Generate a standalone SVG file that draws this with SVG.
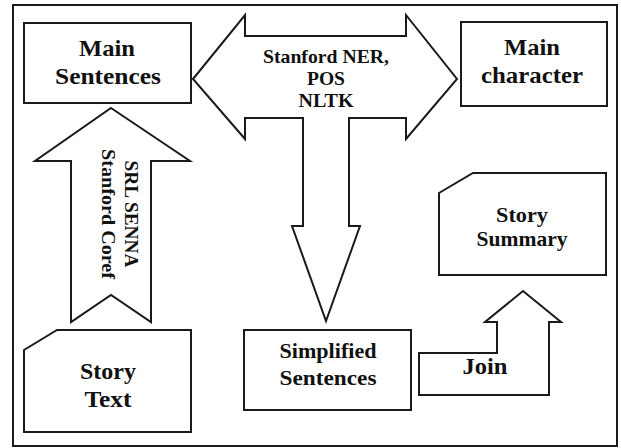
<svg xmlns="http://www.w3.org/2000/svg" width="621" height="448" viewBox="0 0 621 448">
<style>
.s{fill:#fff;stroke:#1a1a1a;stroke-width:2;stroke-linejoin:miter}
.t{font-family:"Liberation Serif","Times New Roman",serif;font-weight:bold;fill:#111;text-anchor:middle}
.f24{font-size:24px}
.f21{font-size:21px}
.f19{font-size:19.5px}
</style>
<rect x="0" y="0" width="621" height="448" fill="#fff"/>
<rect class="s" x="13" y="5" width="604" height="441"/>
<g id="connectors">
<g id="arrow-tools">
<polygon class="s" points="193,79 245,15 245,36 406,36 406,15 457,79 406,139 406,118 349,118 349,226 360,226 326,321 292,226 303,226 303,118 245,118 245,139"/>
<text class="t f19" x="326" y="63" textLength="126" lengthAdjust="spacingAndGlyphs">Stanford NER,</text>
<text class="t f19" x="326" y="85" textLength="38" lengthAdjust="spacingAndGlyphs">POS</text>
<text class="t f19" x="326" y="107" textLength="55" lengthAdjust="spacingAndGlyphs">NLTK</text>
</g>
<g id="arrow-srl">
<polygon class="s" points="111,108 190,161 151,161 151,322 111,295 71,322 71,161 35,161"/>
<g transform="translate(125,214) rotate(90)">
<text class="t f19" x="0" y="0" textLength="107" lengthAdjust="spacingAndGlyphs">SRL SENNA</text>
<text class="t f19" x="0" y="23" textLength="130" lengthAdjust="spacingAndGlyphs">Stanford Coref</text>
</g>
</g>
<g id="arrow-join">
<polygon class="s" points="419,395 419,353 497,353 497,322 485,322 523,291 561,322 549,322 549,395"/>
<text class="t f24" x="485" y="374" textLength="45" lengthAdjust="spacingAndGlyphs">Join</text>
</g>
</g>
<g id="main-sentences">
<rect class="s" x="24" y="23" width="167" height="80"/>
<text class="t f24" x="107" y="56" textLength="56" lengthAdjust="spacingAndGlyphs">Main</text>
<text class="t f24" x="108" y="84" textLength="106" lengthAdjust="spacingAndGlyphs">Sentences</text>
</g>
<g id="main-character">
<rect class="s" x="461" y="22" width="146" height="84"/>
<text class="t f24" x="532" y="55" textLength="56" lengthAdjust="spacingAndGlyphs">Main</text>
<text class="t f24" x="532" y="83" textLength="102" lengthAdjust="spacingAndGlyphs">character</text>
</g>
<g id="story-text">
<polygon class="s" points="24,350 57,330 191,330 191,432 24,432"/>
<text class="t f24" x="108" y="379" textLength="56" lengthAdjust="spacingAndGlyphs">Story</text>
<text class="t f24" x="108" y="407" textLength="47" lengthAdjust="spacingAndGlyphs">Text</text>
</g>
<g id="simplified-sentences">
<rect class="s" x="244" y="330" width="167" height="80"/>
<text class="t f21" x="328" y="358" textLength="97" lengthAdjust="spacingAndGlyphs">Simplified</text>
<text class="t f21" x="328" y="385" textLength="97" lengthAdjust="spacingAndGlyphs">Sentences</text>
</g>
<g id="story-summary">
<polygon class="s" points="439,193 473,173 606,173 606,275 439,275"/>
<text class="t f21" x="522" y="222" textLength="52" lengthAdjust="spacingAndGlyphs">Story</text>
<text class="t f21" x="522" y="246" textLength="91" lengthAdjust="spacingAndGlyphs">Summary</text>
</g>
</svg>
